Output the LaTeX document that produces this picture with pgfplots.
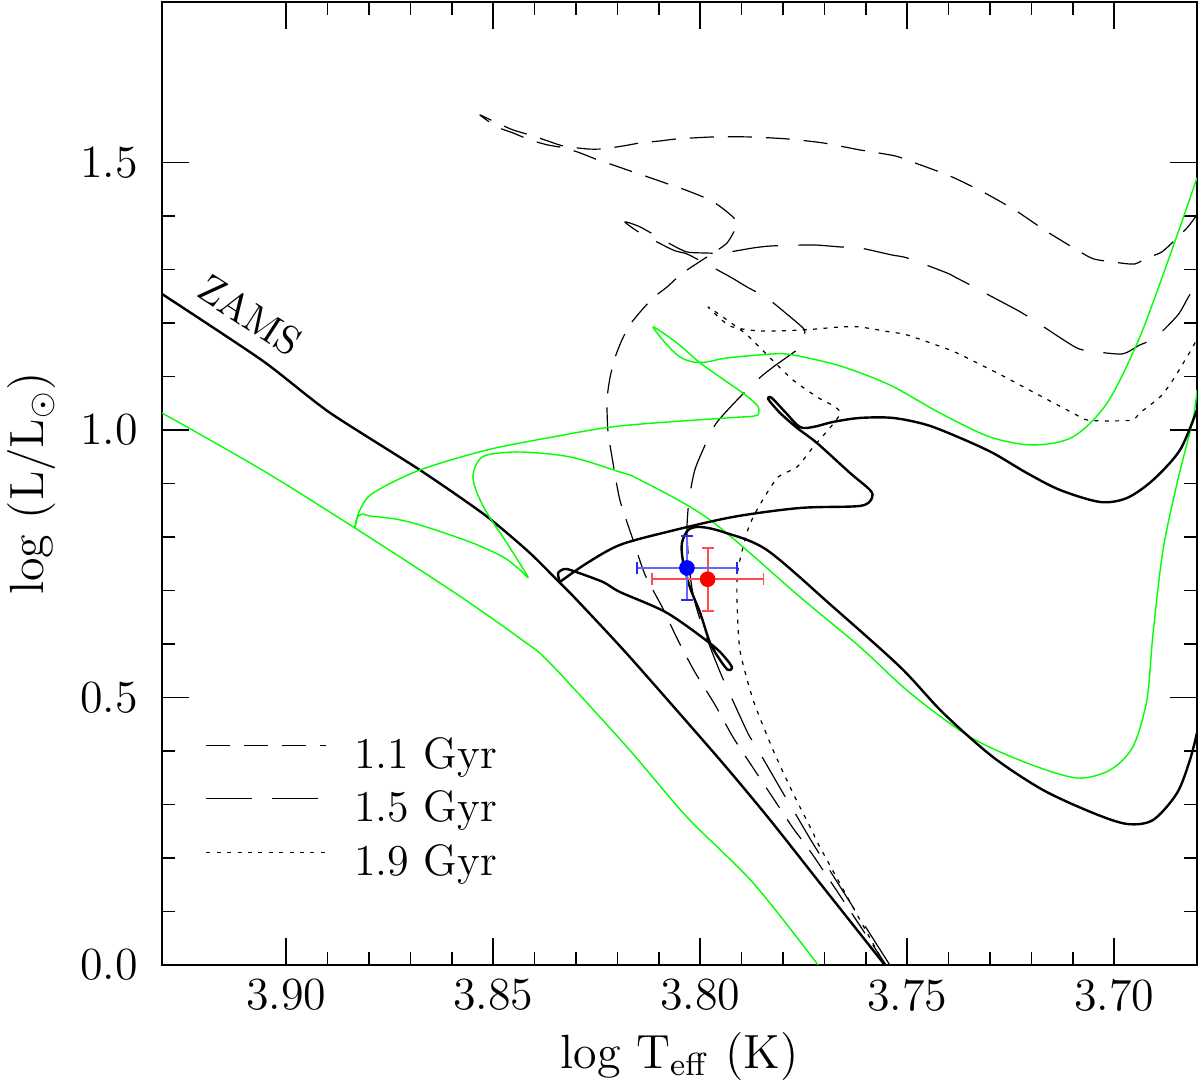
\documentclass[border=0pt]{standalone}
\usepackage{pgfplots}
\pgfplotsset{compat=1.18}
\definecolor{ebred}{rgb}{1,0.3,0.3}
\definecolor{ebblue}{rgb}{0.4,0.4,1}
\begin{document}
\begin{tikzpicture}
\begin{axis}[
  name=ax,
  width=258.75pt, height=240.75pt, scale only axis,
  xmin=3.68, xmax=3.93, ymin=0, ymax=1.8,
  x dir=reverse,
  xtick={3.70,3.75,3.80,3.85,3.90},
  xticklabels={3.70,3.75,3.80,3.85,3.90},
  ytick={0,0.5,1.0,1.5},
  yticklabels={0.0,0.5,1.0,1.5},
  minor x tick num=4, minor y tick num=4,
  tick align=inside,
  major tick length=6.7pt, minor tick length=3.3pt,
  every tick/.style={black, line width=0.4pt},
  axis line style={line width=0.5pt},
  tick label style={font=\fontsize{11.5}{13}\selectfont},
  yticklabel style={xshift=-2.5pt},
  label style={font=\fontsize{12}{14}\selectfont},
  xlabel={log T$_{\mathrm{eff}}$ (K)},
  xlabel style={at={(axis description cs:0.5,-0.107)}, anchor=base},
  ylabel={log (L/L$_\odot$)},
  ylabel style={at={(axis description cs:-0.1256,0.5)}, anchor=center},
  legend style={draw=none, fill=none, at={(axis cs:3.9196,0.2897)}, anchor=west,
    font=\fontsize{11}{13}\selectfont, row sep=3.4pt, inner sep=0pt,
    nodes={inner sep=0pt, text height=8pt, text depth=2pt},
    /tikz/every odd column/.append style={column sep=6.75pt}},
  legend cell align=left,
  legend image code/.code={\draw[#1] (0pt,2.8pt) -- (30pt,2.8pt);},
  every axis plot/.append style={line join=round},
]
% isochrones
\addplot[black, line width=0.3pt, dash pattern=on 6pt off 3.5pt, smooth, tension=0.4] table {
3.7551 0
3.7723 0.2000
3.7776 0.2561
3.7824 0.3122
3.7872 0.3682
3.7921 0.4262
3.7964 0.4860
3.8013 0.5477
3.8054 0.6075
3.8092 0.6692
3.8133 0.7290
3.8162 0.7944
3.8194 0.8692
3.8213 0.9496
3.8223 1.0000
3.8225 1.0561
3.8218 1.0972
3.8206 1.1346
3.8189 1.1683
3.8170 1.1963
3.8145 1.2206
3.8114 1.2468
3.8080 1.2673
3.8042 1.2935
3.7969 1.3309
3.7935 1.3496
3.7911 1.3832
3.7921 1.3982
3.7957 1.4206
3.7993 1.4355
3.8042 1.4505
3.8078 1.4599
3.8126 1.4729
3.8162 1.4823
3.8211 1.4954
3.8247 1.5047
3.8290 1.5178
3.8327 1.5271
3.8368 1.5327
3.8411 1.5421
3.8452 1.5552
3.8491 1.5664
3.8532 1.5888
3.8496 1.5757
3.8452 1.5608
3.8411 1.5514
3.8375 1.5421
3.8331 1.5309
3.8273 1.5253
3.8237 1.5253
3.8186 1.5309
3.8145 1.5365
3.8097 1.5402
3.8056 1.5440
3.7969 1.5477
3.7880 1.5477
3.7790 1.5440
3.7703 1.5365
3.7614 1.5234
3.7529 1.5122
3.7481 1.4991
3.7397 1.4748
3.7317 1.4449
3.7240 1.4112
3.7165 1.3720
3.7090 1.3365
3.7049 1.3196
3.6986 1.3122
3.6950 1.3103
3.6921 1.3215
3.6885 1.3327
3.6848 1.3589
3.6822 1.3795
3.6800 1.4019
};
\addlegendentry{1.1 Gyr}
\addplot[black, line width=0.3pt, dash pattern=on 11.5pt off 5pt, smooth, tension=0.4] table {
3.7542 0
3.7718 0.2150
3.7778 0.2935
3.7800 0.3215
3.7863 0.4056
3.7885 0.4336
3.7935 0.5178
3.7952 0.5477
3.7976 0.5944
3.8000 0.6449
3.8017 0.6916
3.8027 0.7477
3.8032 0.8131
3.8027 0.8692
3.8013 0.9252
3.7988 0.9720
3.7964 1.0094
3.7938 1.0337
3.7892 1.0711
3.7851 1.1010
3.7817 1.1215
3.7783 1.1402
3.7759 1.1552
3.7747 1.1832
3.7754 1.1925
3.7788 1.2150
3.7839 1.2468
3.7887 1.2673
3.7923 1.2841
3.7976 1.3066
3.8032 1.3290
3.8066 1.3365
3.8145 1.3683
3.8182 1.3888
3.8145 1.3795
3.8068 1.3458
3.8032 1.3327
3.7993 1.3309
3.7945 1.3309
3.7872 1.3402
3.7827 1.3440
3.7727 1.3458
3.7662 1.3421
3.7614 1.3402
3.7537 1.3271
3.7500 1.3215
3.7404 1.2935
3.7385 1.2860
3.7348 1.2711
3.7317 1.2580
3.7235 1.2243
3.7203 1.2094
3.7095 1.1552
3.7058 1.1477
3.6981 1.1421
3.6938 1.1589
3.6901 1.1720
3.6846 1.2150
3.6822 1.2468
3.6800 1.2748
};
\addlegendentry{1.5 Gyr}
\addplot[black, line width=0.3pt, dash pattern=on 1pt off 1.6pt, smooth, tension=0.4] table {
3.7554 0
3.7711 0.2206
3.7727 0.2467
3.7776 0.3215
3.7824 0.4019
3.7872 0.4953
3.7904 0.5888
3.7911 0.6823
3.7909 0.7383
3.7885 0.8131
3.7863 0.8505
3.7814 0.9103
3.7766 0.9309
3.7727 0.9682
3.7662 1.0318
3.7718 1.0617
3.7776 1.0935
3.7831 1.1346
3.7887 1.1776
3.7935 1.2056
3.7981 1.2299
3.7928 1.1944
3.7856 1.1851
3.7752 1.1869
3.7662 1.1925
3.7614 1.1925
3.7542 1.1832
3.7500 1.1776
3.7397 1.1496
3.7355 1.1346
3.7259 1.0972
3.7228 1.0841
3.7100 1.0318
3.7066 1.0187
3.7010 1.0169
3.6955 1.0187
3.6938 1.0318
3.6889 1.0617
3.6858 1.0935
3.6810 1.1552
3.6800 1.1720
};
\addlegendentry{1.9 Gyr}
% ZAMS
\addplot[black, line width=0.6pt, forget plot, smooth, tension=0.4] table {
3.9300 1.2542
3.9058 1.1300
3.8897 1.0336
3.8677 0.9252
3.8520 0.8411
3.8414 0.7720
3.8341 0.7159
3.8298 0.6823
3.8170 0.5757
3.7952 0.3832
3.7831 0.2710
3.7711 0.1533
3.7554 0
};
% green lower line
\addplot[green, line width=0.35pt, forget plot, smooth, tension=0.5] table {
3.9300 1.0318
3.9058 0.9252
3.8834 0.8168
3.8592 0.6953
3.8430 0.6075
3.8363 0.5645
3.8177 0.4075
3.8032 0.2766
3.7872 0.1533
3.7715 0
};
% green track B
\addplot[green, line width=0.35pt, forget plot, smooth, tension=0.5] table {
3.8834 0.8168
3.8822 0.8505
3.8790 0.8823
3.8677 0.9252
3.8515 0.9626
3.8356 0.9869
3.8194 1.0075
3.7935 1.0225
3.7868 1.0262
3.7858 1.0337
3.7863 1.0468
3.7897 1.0692
3.7935 1.0897
3.8000 1.1253
3.8056 1.1626
3.8112 1.1925
3.8104 1.1813
3.8080 1.1589
3.8049 1.1365
3.8017 1.1271
3.7984 1.1271
3.7935 1.1346
3.7824 1.1421
3.7776 1.1402
3.7662 1.1197
3.7542 1.0841
3.7421 1.0318
3.7300 0.9869
3.7196 0.9720
3.7100 0.9869
3.7017 1.0505
3.6938 1.1739
3.6858 1.3421
3.6800 1.4711
};
% green track C
\addplot[green, line width=0.35pt, forget plot, smooth, tension=0.5] table {
3.8834 0.8187
3.8829 0.8355
3.8817 0.8430
3.8798 0.8393
3.8737 0.8337
3.8677 0.8224
3.8556 0.7907
3.8476 0.7626
3.8435 0.7383
3.8416 0.7252
3.8467 0.7888
3.8515 0.8449
3.8539 0.8823
3.8549 0.9122
3.8539 0.9383
3.8515 0.9533
3.8435 0.9589
3.8314 0.9496
3.8194 0.9215
3.8145 0.9066
3.7976 0.8318
3.7759 0.6879
3.7614 0.5944
3.7493 0.5084
3.7348 0.4262
3.7211 0.3776
3.7090 0.3495
3.7010 0.3645
3.6955 0.4075
3.6921 0.4953
3.6906 0.6206
3.6882 0.7757
3.6848 0.9010
3.6810 1.0187
3.6800 1.0748
};
% black track D
\addplot[black, line width=0.6pt, forget plot, smooth, tension=0.5] table {
3.8339 0.7159
3.8273 0.7514
3.8194 0.7851
3.8080 0.8094
3.7921 0.8374
3.7759 0.8542
3.7614 0.8580
3.7585 0.8729
3.7590 0.8879
3.7638 0.9196
3.7718 0.9757
3.7766 1.0038
3.7807 1.0318
3.7836 1.0580
3.7827 1.0598
3.7795 1.0337
3.7759 1.0056
3.7727 1.0056
3.7679 1.0150
3.7614 1.0225
3.7534 1.0225
3.7452 1.0094
3.7372 0.9851
3.7293 0.9570
3.7211 0.9196
3.7131 0.8879
3.7034 0.8654
3.6969 0.8729
3.6906 0.9066
3.6841 0.9626
3.6800 1.0374
};
% black track E
\addplot[black, line width=0.6pt, forget plot, smooth, tension=0.5] table {
3.8339 0.7159
3.8343 0.7327
3.8327 0.7402
3.8307 0.7365
3.8235 0.7159
3.8194 0.6972
3.8080 0.6580
3.7971 0.5981
3.7935 0.5701
3.7923 0.5552
3.7933 0.5514
3.7952 0.5701
3.7976 0.6019
3.8000 0.6580
3.8025 0.7066
3.8042 0.7570
3.8044 0.7888
3.8029 0.8131
3.8000 0.8187
3.7945 0.8094
3.7839 0.7757
3.7679 0.6692
3.7517 0.5570
3.7413 0.4710
3.7293 0.3888
3.7172 0.3271
3.7051 0.2841
3.6969 0.2636
3.6906 0.2710
3.6848 0.3215
3.6817 0.3832
3.6800 0.4336
};
% observed points: red (error bars then point)
\addplot[color=ebred, line width=0.45pt, mark=|, mark size=1.5pt, mark options={color=ebred}, forget plot]
  coordinates {(3.8117,0.7210) (3.7847,0.7210)};
\addplot[color=ebred, line width=0.45pt, mark=-, mark size=1.5pt, mark options={color=ebred}, forget plot]
  coordinates {(3.7982,0.6620) (3.7982,0.7800)};
\addplot[only marks, mark=*, mark size=1.75pt, color=red, mark options={fill=red, draw=red}, forget plot]
  coordinates {(3.7982,0.7210)};
% blue
\addplot[color=ebblue, line width=0.5pt, mark=|, mark size=1.6pt, mark options={color=blue!85}, forget plot]
  coordinates {(3.8152,0.7421) (3.7912,0.7421)};
\addplot[color=ebblue, line width=0.5pt, mark=-, mark size=1.6pt, mark options={color=blue!85}, forget plot]
  coordinates {(3.8032,0.6821) (3.8032,0.8021)};
\addplot[only marks, mark=*, mark size=1.75pt, color=blue, mark options={fill=blue, draw=blue}, forget plot]
  coordinates {(3.8032,0.7421)};
\node[rotate=-33, font=\fontsize{10}{12}\selectfont] at (axis cs:3.9087,1.2150) {ZAMS};
\end{axis}
\pgfresetboundingbox
\path[use as bounding box] ([shift={(-40.5pt,-30.25pt)}]ax.south west) rectangle ([shift={(1pt,0.5pt)}]ax.north east);
\end{tikzpicture}
\end{document}
